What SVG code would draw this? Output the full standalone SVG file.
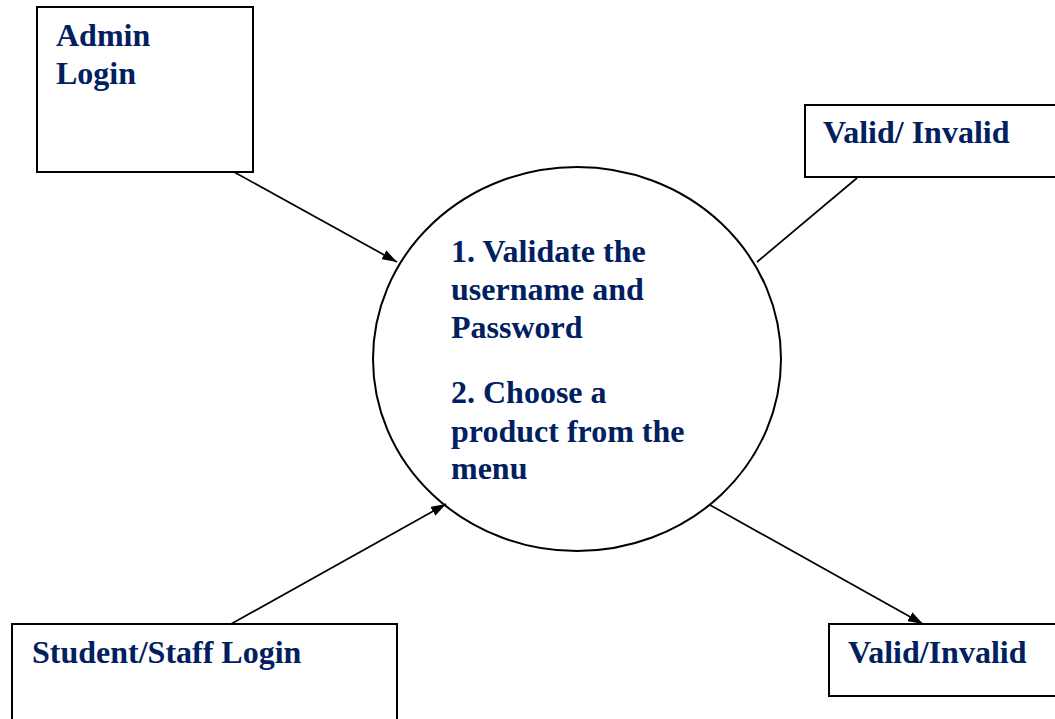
<svg xmlns="http://www.w3.org/2000/svg" width="1055" height="719" viewBox="0 0 1055 719">
<style>
.box{fill:#fff;stroke:#000;stroke-width:2}
.proc{fill:#fff;stroke:#000;stroke-width:2}
.lbl{font-family:"Liberation Serif","Times New Roman",serif;font-weight:bold;font-size:32px;fill:#002060}
.con{stroke:#000;stroke-width:1.7;fill:none}
</style>
<defs>
<marker id="arrow" viewBox="0 0 15 10" refX="15" refY="5" markerWidth="15" markerHeight="10" markerUnits="userSpaceOnUse" orient="auto">
<path d="M0,0 L15,5 L0,10 z" fill="#000"/>
</marker>
</defs>
<rect width="1055" height="719" fill="#fff"/>
<g id="admin">
<rect class="box" x="37" y="7" width="216" height="165"/>
<text class="lbl" x="56" y="46">Admin</text>
<text class="lbl" x="56" y="84">Login</text>
</g>
<g id="valid-top">
<rect class="box" x="805" y="105" width="260" height="72"/>
<text class="lbl" x="823" y="143">Valid/ Invalid</text>
</g>
<g id="student">
<rect class="box" x="12" y="624" width="385" height="110"/>
<text class="lbl" x="32" y="663">Student/Staff Login</text>
</g>
<g id="valid-bottom">
<rect class="box" x="829" y="624" width="236" height="72"/>
<text class="lbl" x="848" y="663">Valid/Invalid</text>
</g>
<g id="process">
<ellipse class="proc" cx="577" cy="359" rx="204" ry="192"/>
<text class="lbl" x="451" y="262">1. Validate the</text>
<text class="lbl" x="451" y="300">username and</text>
<text class="lbl" x="451" y="338">Password</text>
<text class="lbl" x="451" y="403">2. Choose a</text>
<text class="lbl" x="451" y="442">product from the</text>
<text class="lbl" x="451" y="479">menu</text>
</g>
<g id="connectors">
<line class="con" x1="234" y1="172" x2="397" y2="262" marker-end="url(#arrow)"/>
<line class="con" x1="231" y1="624" x2="446" y2="504" marker-end="url(#arrow)"/>
<line class="con" x1="857" y1="178" x2="757" y2="262"/>
<line class="con" x1="710" y1="505" x2="923" y2="624" marker-end="url(#arrow)"/>
</g>
</svg>
